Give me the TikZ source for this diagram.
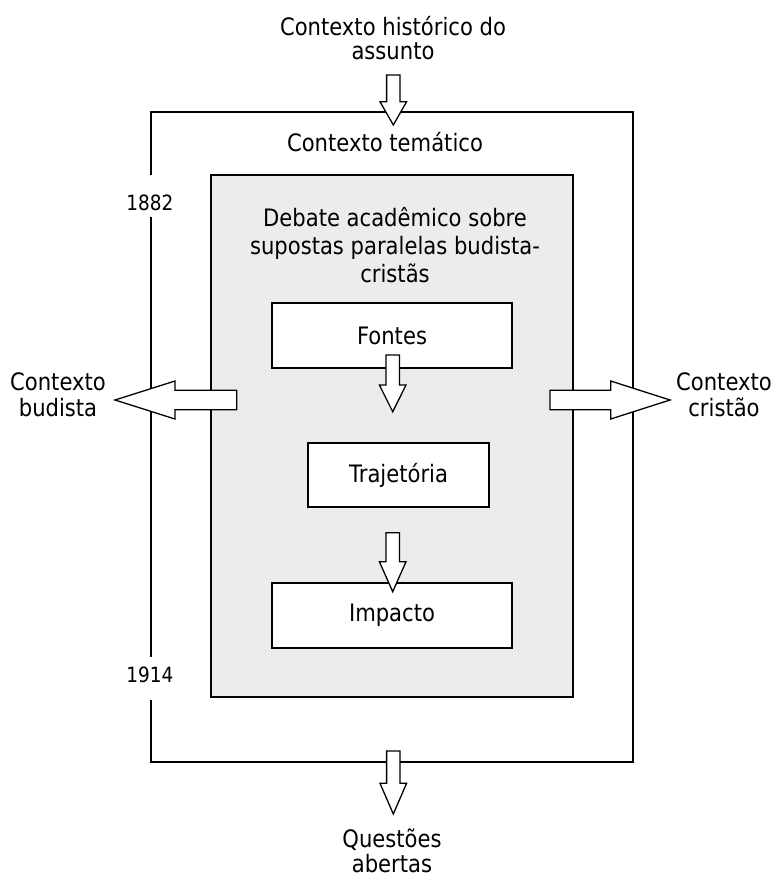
\documentclass[tikz,border=0pt]{standalone}
\usepackage{fontspec}
\setmainfont[FakeStretch=0.88]{DejaVu Sans}
\newcommand{\myvarrow}[4]{\draw[barrow] ({#1-6.7},#2) -- ({#1+6.7},#2) -- ({#1+6.7},#3) -- ({#1+13.3},#3) -- (#1,#4) -- ({#1-13.3},#3) -- ({#1-6.7},#3) -- cycle;}
\newcommand{\myharrow}[4]{\draw[barrow] (#2,{#1-9.7}) -- (#3,{#1-9.7}) -- (#3,{#1-19}) -- (#4,#1) -- (#3,{#1+19}) -- (#3,{#1+9.7}) -- (#2,{#1+9.7}) -- cycle;}
\begin{document}
\begin{tikzpicture}[x=1pt,y=-1pt,
  lbl/.style={font=\fontsize{24}{25}\selectfont, align=center, inner sep=0pt},
  yr/.style={font=\fontsize{21}{22}\selectfont, inner sep=0pt},
  frame/.style={draw=black, line width=1.3pt},
  boxn/.style={draw=black, fill=white, line width=1.3pt, font=\fontsize{24}{25}\selectfont, inner sep=0pt},
  barrow/.style={draw=black, fill=white, line width=1.3pt, line join=miter}]
\useasboundingbox (0,0) rectangle (774,878);
% outer frame with gaps for the years
\draw[frame] (151,175) |- (633,112) |- (151,762) -- (151,700);
\draw[frame] (151,217) -- (151,657);
% grey inner area
\draw[frame, fill=gray!15] (211,175) rectangle (573,697);
% labels (base anchor = baseline of the last line)
\node[lbl, anchor=base, font=\fontsize{24}{24.3}\selectfont] (hist) at (393,59.3) {Contexto histórico do\\assunto};
\node[lbl, anchor=base] (tema) at (385,151.7) {Contexto temático};
\node[yr, anchor=base] (y1882) at (150,210) {1882};
\node[yr, anchor=base] (y1914) at (150,682.3) {1914};
\node[lbl, anchor=base, font=\fontsize{24}{27.8}\selectfont] (deb) at (395,282.3) {Debate acadêmico sobre\\supostas paralelas budista-\\cristãs};
\node[lbl, anchor=base, font=\fontsize{24}{26}\selectfont] (bud) at (58,416.7) {Contexto\\budista};
\node[lbl, anchor=base, font=\fontsize{24}{26}\selectfont] (cri) at (724,416.7) {Contexto\\cristão};
\node[lbl, anchor=base, font=\fontsize{24}{24.3}\selectfont] (que) at (392,872) {Questões\\abertas};
% inner boxes
\node[boxn, minimum width=240pt, minimum height=65pt] (fon) at (392,335.5) {Fontes};
\node[boxn, minimum width=181pt, minimum height=64pt] (tra) at (398.5,475) {Trajetória};
\node[boxn, minimum width=240pt, minimum height=65pt] (imp) at (392,615.5) {Impacto};
% block arrows
\myvarrow{393.3}{75}{101.7}{125}
\myvarrow{392.7}{355}{385}{411.7}
\myvarrow{392.7}{532.7}{561.7}{591.7}
\myvarrow{393.3}{751}{783.3}{814}
\myharrow{400}{236.7}{175}{115}
\myharrow{400}{550}{610.7}{670}
\end{tikzpicture}
\end{document}
